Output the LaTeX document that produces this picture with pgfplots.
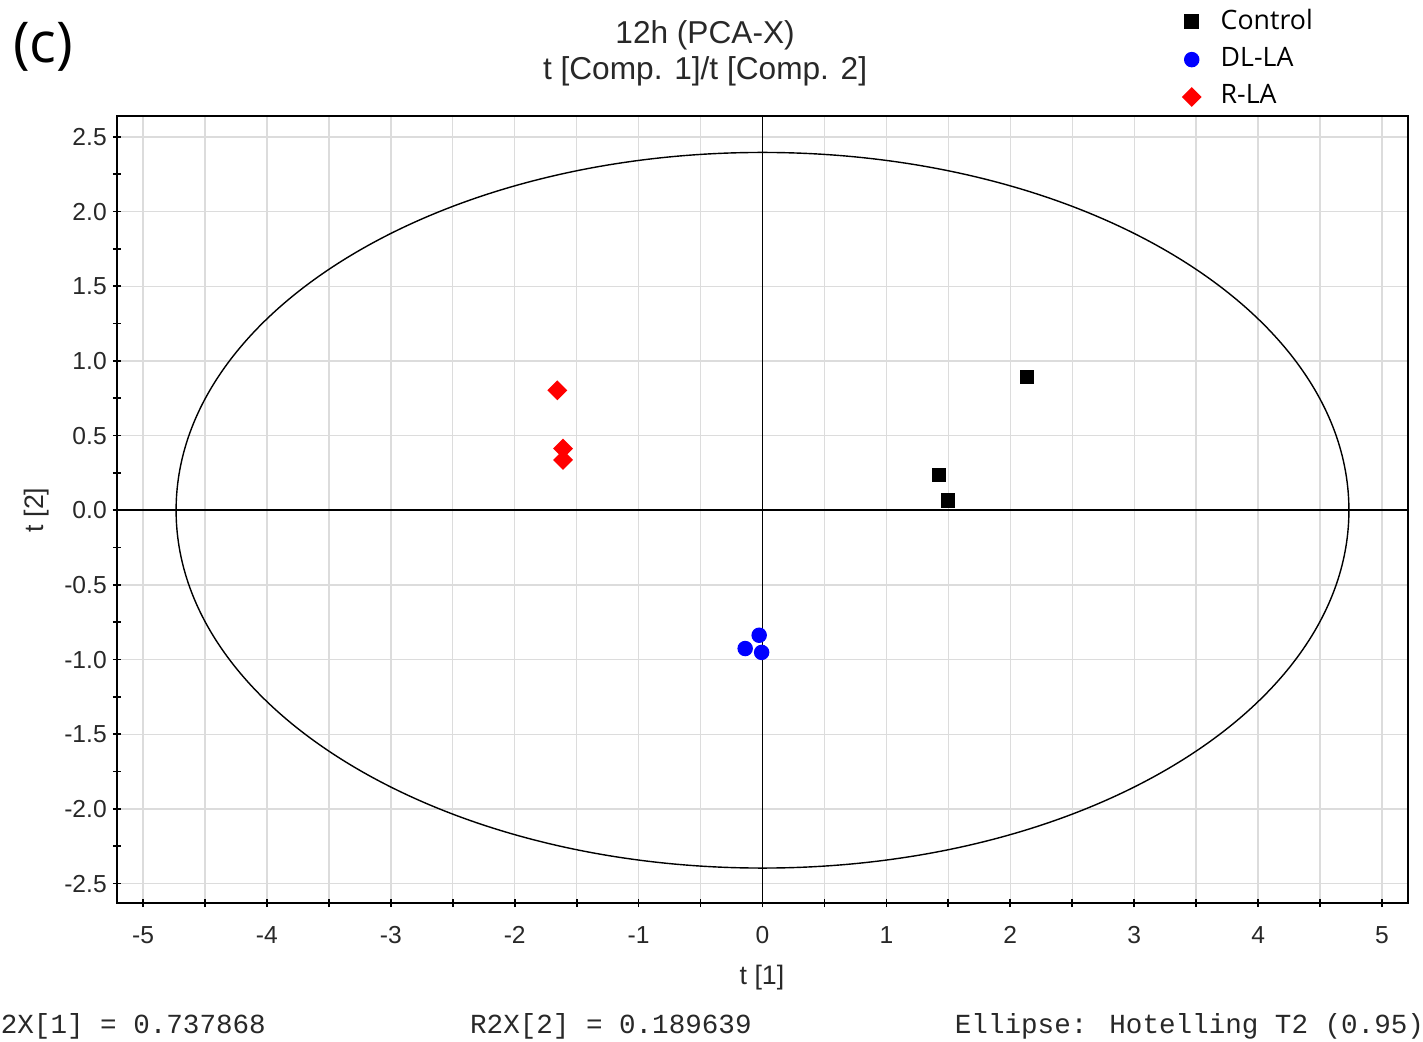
\documentclass[border=0pt]{standalone}
\usepackage{pgfplots}
\pgfplotsset{compat=1.18}
\usepackage{fontspec}
\setmainfont{Liberation Sans}
\newfontfamily\legfont{Open Sans}
\newfontfamily\monofont{Liberation Mono}
\definecolor{gridgray}{RGB}{220,220,220}
\definecolor{txt}{RGB}{40,40,40}
\begin{document}
\begin{tikzpicture}
\begin{axis}[
  at={(0,0)}, anchor=south west,
  scale only axis, width=129.1mm, height=78.7mm,
  xmin=-5.21, xmax=5.21, ymin=-2.63, ymax=2.64,
  xtick={-5,-4,...,5}, minor x tick num=1,
  ytick={-2.5,-2,...,2.5}, minor y tick num=1,
  yticklabel style={xshift=1.8pt, /pgf/number format/.cd, fixed, fixed zerofill, precision=1},
  /pgf/number format/assume math mode=true,
  tick label style={font=\fontsize{7}{8}\selectfont, text=txt},
  xticklabel style={yshift=-2pt},
  grid=major, xminorgrids=true,
  major grid style={gridgray, line width=0.4pt},
  minor grid style={gridgray, line width=0.4pt},
  tick align=center, major tick length=2.4pt, minor tick length=2.4pt,
  tick style={black, line width=0.5pt},
  xtick pos=bottom, ytick pos=left,
  axis line style={black, line width=0.6pt},
  extra x ticks={0}, extra x tick labels={},
  extra y ticks={0}, extra y tick labels={},
  extra tick style={grid=major, major grid style={black, line width=0.55pt}},
  xlabel={t [1]}, ylabel={t [2]},
  label style={font=\fontsize{7.6}{9}\selectfont, text=txt},
  xlabel style={at={(axis description cs:0.4996,-0.0953)}, anchor=center},
  ylabel style={at={(axis description cs:-0.0619,0.4994)}, anchor=center},
  legend style={draw=none, fill=none, font=\legfont\fontsize{7.6}{9}\selectfont,
    at={(axis description cs:0.825,1.146)}, anchor=north west,
    row sep=-0.3pt, column sep=3.7pt, inner sep=0pt, cells={anchor=west}},
  clip=false,
]
\addplot[only marks, mark=square*, mark size=1.9pt, draw=black, fill=black]
  coordinates {(2.134,0.892) (1.425,0.236) (1.498,0.067)};
\addlegendentry{Control}
\addplot[only marks, mark=*, mark size=2.0pt, draw=blue, fill=blue]
  coordinates {(-0.027,-0.837) (-0.14,-0.926) (-0.007,-0.952)};
\addlegendentry{DL-LA}
\addplot[only marks, mark=square*, mark options={rotate=45}, mark size=1.8pt, draw=red, fill=red]
  coordinates {(-1.656,0.803) (-1.61,0.413) (-1.61,0.337)};
\addlegendentry{R-LA}
\draw[black, line width=0.4pt] (axis cs:0,0) ellipse [x radius=4.733, y radius=2.396];
\node[font=\fontsize{9}{10.3}\selectfont, text=txt, align=center] at (axis description cs:0.4555,1.0801) {12h (PCA-X)\\t [Comp. 1]/t [Comp. 2]};
\node[font=\legfont\fontsize{16}{18}\selectfont, text=black] at (axis description cs:-0.0572,1.0877) {(c)};
\node[font=\monofont\fontsize{7.85}{9}\selectfont, text=txt, inner sep=0pt, anchor=base west] at (axis description cs:-0.0905,-0.1652) {2X[1] = 0.737868};
\node[font=\monofont\fontsize{7.85}{9}\selectfont, text=txt, inner sep=0pt, anchor=base west] at (axis description cs:0.273,-0.1652) {R2X[2] = 0.189639};
\node[font=\monofont\fontsize{7.85}{9}\selectfont, text=txt, inner sep=0pt, anchor=base west] at (axis description cs:0.6485,-0.1652) {Ellipse: Hotelling T2 (0.95)};
\end{axis}
\pgfresetboundingbox
\path[use as bounding box] (-11.7mm,-13.9mm) rectangle (130.6mm,90.3mm);
\end{tikzpicture}
\end{document}
